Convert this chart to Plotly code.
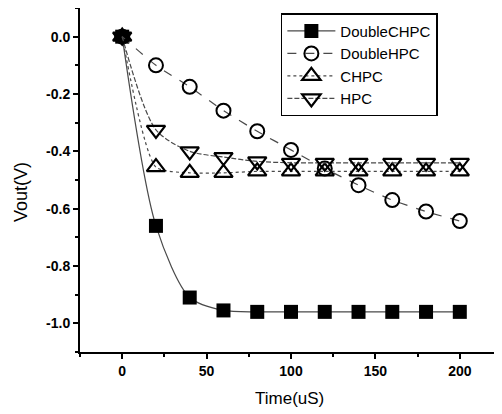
import plotly.graph_objects as go

time_us = [0, 20, 40, 60, 80, 100, 120, 140, 160, 180, 200]
double_chpc = [0.0, -0.66, -0.91, -0.955, -0.96, -0.96, -0.96, -0.96, -0.96, -0.96, -0.96]
double_hpc = [0.0, -0.10, -0.175, -0.258, -0.33, -0.395, -0.46, -0.518, -0.57, -0.61, -0.643]
chpc = [0.0, -0.455, -0.475, -0.475, -0.47, -0.47, -0.47, -0.47, -0.47, -0.47, -0.47]
hpc = [0.0, -0.325, -0.40, -0.42, -0.435, -0.44, -0.44, -0.44, -0.44, -0.44, -0.44]

x_tickvals = [0, 50, 100, 150, 200]
x_ticktext = ["0", "50", "100", "150", "200"]
y_tickvals = [0.0, -0.2, -0.4, -0.6, -0.8, -1.0]
y_ticktext = ["0.0", "-0.2", "-0.4", "-0.6", "-0.8", "-1.0"]

FONT = "Liberation Sans, Arial, sans-serif"
LINE_COL = "#4a4a4a"

fig = go.Figure()
fig.add_trace(go.Scatter(
    x=time_us, y=double_chpc, name="DoubleCHPC", mode="lines+markers",
    line=dict(color=LINE_COL, width=1.2, shape="spline", smoothing=0.8),
    marker=dict(symbol="square", size=14, color="black"),
))
fig.add_trace(go.Scatter(
    x=time_us, y=double_hpc, name="DoubleHPC", mode="lines+markers",
    line=dict(color=LINE_COL, width=1.2, dash="dash", shape="spline", smoothing=0.6),
    marker=dict(symbol="circle-open", size=14, color="black", line=dict(width=2, color="black")),
))
fig.add_trace(go.Scatter(
    x=time_us, y=chpc, name="CHPC", mode="lines+markers",
    line=dict(color=LINE_COL, width=1.2, dash="dot", shape="spline", smoothing=0.6),
    marker=dict(symbol="triangle-up-open", size=16, color="black", line=dict(width=2.2, color="black")),
))
fig.add_trace(go.Scatter(
    x=time_us, y=hpc, name="HPC", mode="lines+markers",
    line=dict(color=LINE_COL, width=1.2, dash="5px,2px", shape="spline", smoothing=0.8),
    marker=dict(symbol="triangle-down-open", size=16, color="black", line=dict(width=2.2, color="black")),
))

axis_common = dict(
    showline=True, linecolor="black", linewidth=2,
    ticks="outside", ticklen=5, tickwidth=2, tickcolor="black",
    showgrid=False, zeroline=False, mirror=False,
    tickfont=dict(family=FONT, size=14, color="black", weight="bold"),
)

fig.update_xaxes(
    range=[-25, 225], tickvals=x_tickvals, ticktext=x_ticktext,
    minor=dict(dtick=25, tick0=0, ticks="outside", ticklen=3, tickwidth=1.5, tickcolor="black"),
    **axis_common,
)
fig.update_yaxes(
    range=[-1.1, 0.1], tickvals=y_tickvals, ticktext=y_ticktext,
    minor=dict(dtick=0.1, tick0=0, ticks="outside", ticklen=3, tickwidth=1.5, tickcolor="black"),
    **axis_common,
)

# page body has an 8px margin: shrink the figure so the plot area lands where the reference has it
fig.update_layout(
    width=494, height=406,
    margin=dict(l=72, r=0, t=0, b=62),
    paper_bgcolor="white", plot_bgcolor="white",
    showlegend=True,
    legend=dict(
        x=0.476, y=0.985, xanchor="left", yanchor="top",
        bordercolor="black", borderwidth=1.5, bgcolor="white",
        font=dict(family=FONT, size=15, color="black"),
        tracegroupgap=0, itemsizing="trace", itemwidth=48,
    ),
    annotations=[
        dict(text="Time(uS)", xref="paper", yref="paper", x=0.4976, y=-0.1366,
             showarrow=False, xanchor="center", yanchor="middle",
             font=dict(family=FONT, size=17, color="black")),
        dict(text="Vout(V)", xref="paper", yref="paper", x=-0.1398, y=0.465,
             showarrow=False, xanchor="center", yanchor="middle", textangle=-90,
             font=dict(family=FONT, size=18, color="black")),
    ],
)

fig.write_html("out.html")
